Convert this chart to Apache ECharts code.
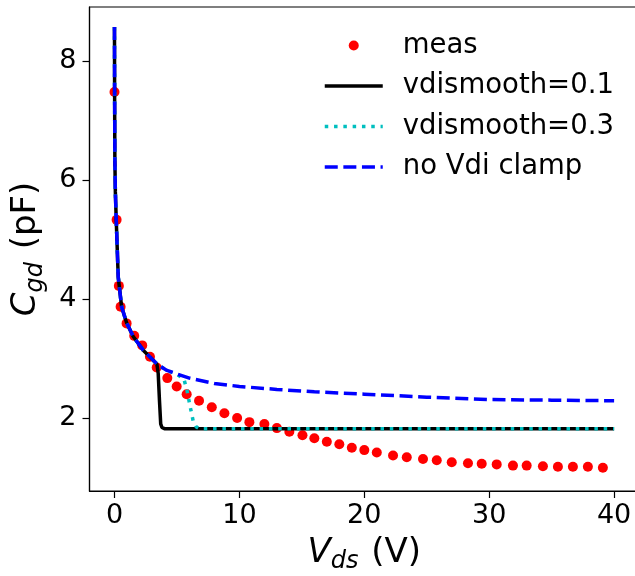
<!DOCTYPE html>
<html>
<head>
<meta charset="utf-8">
<script src="https://cdn.jsdelivr.net/npm/echarts@6/dist/echarts.min.js"></script>
<style>
html,body{margin:0;padding:0;background:#fff;}
#chart{width:635px;height:576px;}
</style>
</head>
<body>
<div id="chart"></div>
<script>
// ---- data ----
var measV = [0, 0.17, 0.35, 0.49, 0.97, 1.58, 2.22, 2.84, 3.38, 4.23, 4.98, 5.78, 6.77, 7.79, 8.80, 9.82, 10.8, 12.0, 13.0, 14.0, 15.05, 16.0, 17.0, 18.0, 19.0, 20.0, 21.0, 22.3, 23.4, 24.7, 25.8, 27.0, 28.3, 29.4, 30.6, 31.9, 33.0, 34.3, 35.5, 36.7, 37.9, 39.1];
var measC = [7.48, 5.33, 4.22, 3.87, 3.59, 3.38, 3.22, 3.03, 2.85, 2.67, 2.53, 2.40, 2.29, 2.18, 2.08, 2.00, 1.93, 1.90, 1.83, 1.77, 1.71, 1.66, 1.60, 1.56, 1.50, 1.46, 1.42, 1.37, 1.34, 1.31, 1.29, 1.255, 1.24, 1.23, 1.22, 1.20, 1.20, 1.19, 1.18, 1.18, 1.18, 1.165];

var smooth1V = [0, 0.01, 0.03, 0.07, 0.14, 0.3, 0.57, 0.97, 1.5, 2.3, 3.1, 3.4, 3.5, 3.6, 3.7, 3.8, 4.0, 10, 20, 30, 40];
var smooth1C = [8.57, 7.5, 6.34, 5.8, 5.33, 4.37, 3.87, 3.6, 3.37, 3.14, 2.97, 2.90, 2.75, 2.30, 1.90, 1.84, 1.82, 1.82, 1.82, 1.82, 1.82];

var smooth3V = [0, 0.01, 0.03, 0.07, 0.14, 0.3, 0.57, 0.97, 1.5, 2.3, 3.1, 3.5, 4.2, 5.0, 5.55, 5.8, 6.05, 6.3, 6.55, 6.8, 10, 20, 30, 40];
var smooth3C = [8.57, 7.5, 6.34, 5.8, 5.33, 4.37, 3.87, 3.6, 3.37, 3.14, 2.97, 2.89, 2.80, 2.73, 2.66, 2.47, 2.20, 1.95, 1.85, 1.82, 1.82, 1.82, 1.82, 1.82];

var noClampV = [0, 0.01, 0.03, 0.07, 0.14, 0.3, 0.57, 0.97, 1.5, 2.3, 3.1, 3.5, 4.2, 5, 6, 8, 10, 13, 16, 20, 25, 30, 35, 40];
var noClampC = [8.57, 7.5, 6.34, 5.8, 5.33, 4.37, 3.87, 3.6, 3.37, 3.14, 2.97, 2.89, 2.80, 2.74, 2.67, 2.58, 2.53, 2.48, 2.44, 2.40, 2.35, 2.31, 2.30, 2.29];

var xTicks = [0, 10, 20, 30, 40];
var yTicks = [2, 4, 6, 8];
var seriesNames = ['meas', 'vdismooth=0.1', 'vdismooth=0.3', 'no Vdi clamp'];

function pairs(xs, ys) { return xs.map(function (x, i) { return [x, ys[i]]; }); }

var FONT = 'DejaVu Sans';
var nameRich = {
  i: { fontFamily: FONT, fontStyle: 'italic', fontSize: 34, lineHeight: 34, verticalAlign: 'top', color: '#000' },
  s: { fontFamily: FONT, fontStyle: 'italic', fontSize: 24, lineHeight: 24, padding: [14, 2, 0, 0], verticalAlign: 'top', color: '#000' },
  n: { fontFamily: FONT, fontSize: 34, lineHeight: 34, verticalAlign: 'top', color: '#000' }
};
function axisLineStyle() { return { show: true, onZero: false, lineStyle: { color: '#000', width: 1.2 } }; }
function tickStyle(vals) { return { show: true, inside: false, length: 7, lineStyle: { color: '#000', width: 1.2 }, customValues: vals }; }

var chart = echarts.init(document.getElementById('chart'), null, { renderer: 'canvas' });
chart.setOption({
  animation: false,
  backgroundColor: '#fff',
  grid: {
    left: 89.5, top: 7, width: 549.6, height: 484,
    outerBoundsMode: 'none', containLabel: false,
    show: true, borderColor: '#000', borderWidth: 1.2, backgroundColor: 'transparent'
  },
  xAxis: {
    type: 'value', min: -2, max: 42,
    name: '{i|V}{s|ds}{n| (V)}',
    nameLocation: 'middle', nameGap: 45,
    nameTextStyle: { fontFamily: FONT, fontSize: 34, color: '#000', rich: nameRich },
    axisLine: axisLineStyle(),
    axisTick: tickStyle(xTicks),
    axisLabel: { fontFamily: FONT, fontSize: 27, color: '#000', margin: 11, customValues: xTicks },
    splitLine: { show: false }
  },
  yAxis: {
    type: 'value', min: 0.773, max: 8.907,
    name: '{i|C}{s|gd}{n| (pF)}',
    nameLocation: 'middle', nameGap: 46, nameRotate: 90,
    nameTextStyle: { fontFamily: FONT, fontSize: 34, color: '#000', rich: nameRich },
    axisLine: axisLineStyle(),
    axisTick: tickStyle(yTicks),
    axisLabel: { fontFamily: FONT, fontSize: 27, color: '#000', margin: 13, customValues: yTicks },
    splitLine: { show: false }
  },
  legend: {
    orient: 'vertical', left: 323, top: 31.5, padding: 0,
    itemWidth: 58, itemHeight: 10, itemGap: 12.5,
    textStyle: { fontFamily: FONT, fontSize: 27.5, lineHeight: 27, color: '#000', padding: [0, 0, 0, 15] },
    data: [
      { name: seriesNames[0], icon: 'circle', itemStyle: { opacity: 1 } },
      { name: seriesNames[1], itemStyle: { opacity: 0 }, lineStyle: { width: 3.5 } },
      { name: seriesNames[2], itemStyle: { opacity: 0 }, lineStyle: { width: 3.5 } },
      { name: seriesNames[3], itemStyle: { opacity: 0 }, lineStyle: { width: 3.5 } }
    ]
  },
  series: [
    {
      name: seriesNames[0], type: 'scatter', symbol: 'circle', symbolSize: 10,
      itemStyle: { color: '#ff0000', opacity: 1 },
      data: pairs(measV, measC)
    },
    {
      name: seriesNames[1], type: 'line', showSymbol: false, symbol: 'none',
      lineStyle: { color: '#000000', width: 3.5, type: 'solid' },
      itemStyle: { color: '#000000' },
      data: pairs(smooth1V, smooth1C)
    },
    {
      name: seriesNames[2], type: 'line', showSymbol: false, symbol: 'none',
      lineStyle: { color: '#00bfbf', width: 3.5, type: [3.5, 5.8], cap: 'butt' },
      itemStyle: { color: '#00bfbf' },
      data: pairs(smooth3V, smooth3C)
    },
    {
      name: seriesNames[3], type: 'line', showSymbol: false, symbol: 'none',
      lineStyle: { color: '#0000ff', width: 3.5, type: [13, 5.6], cap: 'butt' },
      itemStyle: { color: '#0000ff' },
      data: pairs(noClampV, noClampC)
    }
  ]
});
</script>
</body>
</html>
